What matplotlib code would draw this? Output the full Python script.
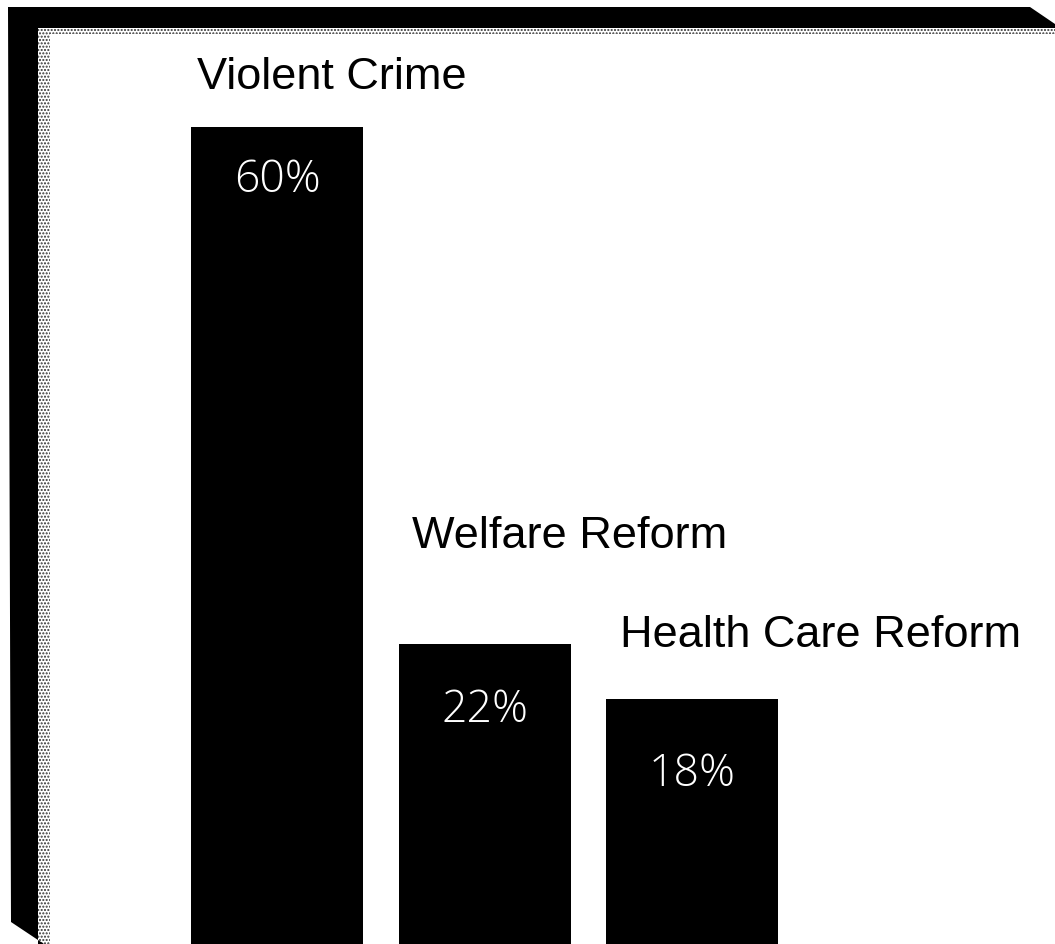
import matplotlib.pyplot as plt
from matplotlib.patches import Polygon, Rectangle

# data
categories = ['Violent Crime', 'Welfare Reform', 'Health Care Reform']
values = [60, 22, 18]
value_labels = ['60%', '22%', '18%']

# label placement (pixels): category text above the bar, value text inside it
cat_dx = [6, 13, 14]
cat_dy = [38, 96, 52]
val_dy = [65, 78, 87]

W, H = 1055, 944
fig = plt.figure(figsize=(W / 100, H / 100), dpi=100)
fig.patch.set_facecolor('white')

ax = fig.add_axes([0, 0, 1, 1])
step = 207.5   # pixels between bar centres
x0 = 277       # pixel x of the first bar centre
scale = 13.62  # pixels per percent
ax.set_xlim(-x0 / step, (W - x0) / step)
ax.set_ylim(0, H / scale)
ax.axis('off')

xs = list(range(len(values)))
bar_w = 172 / step
ax.bar(xs, values, width=bar_w, color='black', zorder=2)

for x, v, cat, vl, dx, dy, vdy in zip(xs, values, categories, value_labels,
                                       cat_dx, cat_dy, val_dy):
    left = x - bar_w / 2
    ax.annotate(cat, (left, v), xytext=(dx, dy), textcoords='offset pixels',
                ha='left', va='baseline', fontsize=32.5,
                family=['Liberation Sans', 'DejaVu Sans'], color='black')
    ax.annotate(vl, (x, v), xytext=(0, -vdy), textcoords='offset pixels',
                ha='center', va='baseline', fontsize=32, fontweight='light',
                family=['Open Sans', 'DejaVu Sans'], color='white', zorder=3)


def px(pts):
    return [(a / W, 1 - b / H) for a, b in pts]


# speckled inner edge of the frame
fig.patches.append(Rectangle((38 / W, 0), 12 / W, 1 - 28 / H,
                             transform=fig.transFigure, facecolor='white',
                             edgecolor='#333333', hatch='.....', lw=0))
fig.patches.append(Rectangle((38 / W, 1 - 34 / H), 1 - 38 / W, 6 / H,
                             transform=fig.transFigure, facecolor='white',
                             edgecolor='#333333', hatch='.....', lw=0))

# dark frame along the top and left edges
frame = [(8, 7), (1030, 7), (1055, 24), (1055, 28), (38, 28),
         (38, 944), (44, 944), (11, 922)]
fig.patches.append(Polygon(px(frame), closed=True, transform=fig.transFigure,
                           facecolor='black', edgecolor='none'))

fig.savefig('out.png', dpi=100, facecolor='white')
